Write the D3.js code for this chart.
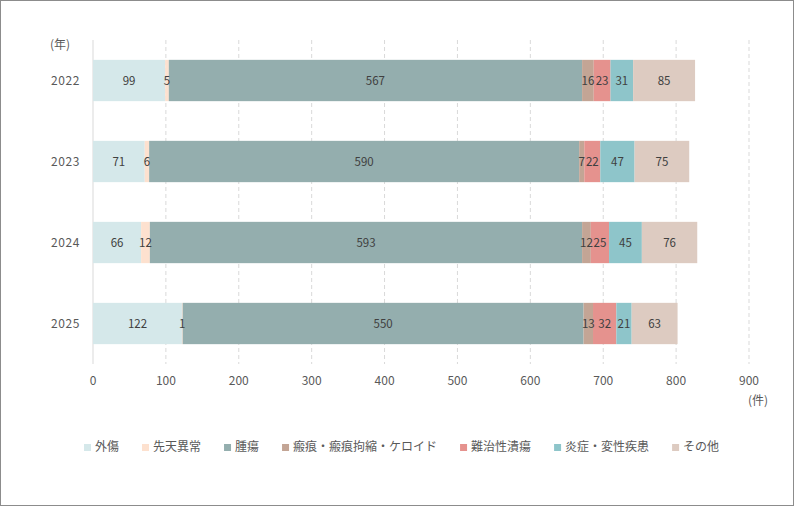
<!DOCTYPE html>
<html>
<head>
<meta charset="utf-8">
<script src="https://cdn.jsdelivr.net/npm/d3@7"></script>
<style>
  body { margin: 0; background: #fff; }
  svg { display: block; font-family: "Noto Sans CJK JP", "Noto Sans", sans-serif; }
</style>
</head>
<body>
<div id="container"><svg></svg></div>
<script>
let width = 794;
let height = 506;

// data
let years = ["2022", "2023", "2024", "2025"];
let categories = ["外傷", "先天異常", "腫瘍", "瘢痕・瘢痕拘縮・ケロイド", "難治性潰瘍", "炎症・変性疾患", "その他"];
let colors = ["#d5e8ea", "#fde1cf", "#94aeae", "#c3a595", "#e5928e", "#8ec5ca", "#ddcbc1"];
let trauma = [99, 71, 66, 122];
let congenital = [5, 6, 12, 1];
let tumor = [567, 590, 593, 550];
let scar = [16, 7, 12, 13];
let ulcer = [23, 22, 25, 32];
let inflammation = [31, 47, 45, 21];
let other = [85, 75, 76, 63];
let xTicks = [0, 100, 200, 300, 400, 500, 600, 700, 800, 900];

let series = [trauma, congenital, tumor, scar, ulcer, inflammation, other];

let rows = years.map((y, i) => {
    let r = {year: y};
    categories.forEach((c, j) => { r[c] = series[j][i]; });
    return r;
});

let stacked = d3.stack().keys(categories)(rows);

let margin = {left: 93, right: 45, top: 40, bottom: 142};

let svg = d3.select('#container').select('svg')
    .attr('width', width)
    .attr('height', height);

// outer frame
svg.append("rect")
    .attr("x", 0.5).attr("y", 0.5)
    .attr("width", width - 1).attr("height", height - 1)
    .attr("fill", "#fff")
    .attr("stroke", "#8c8c8c");

let x = d3.scaleLinear().domain([0, 900]).range([margin.left, 749]);
let y = d3.scaleBand().domain(years).range([margin.top, 364]).paddingInner(0.49).paddingOuter(0.245);

// gridlines
svg.append("g")
    .selectAll("line")
    .data(xTicks.slice(1))
    .join("line")
    .attr("x1", d => x(d)).attr("x2", d => x(d))
    .attr("y1", margin.top).attr("y2", 364)
    .attr("stroke", "#d9d9d9")
    .attr("stroke-dasharray", "4,3");

// category axis line
svg.append("line")
    .attr("x1", x(0)).attr("x2", x(0))
    .attr("y1", margin.top).attr("y2", 364)
    .attr("stroke", "#d9d9d9");

// bars
svg.append("g")
    .selectAll("g")
    .data(stacked)
    .join("g")
    .attr("fill", (d, i) => colors[i])
    .selectAll("rect")
    .data(d => d)
    .join("rect")
    .attr("x", d => x(d[0]))
    .attr("width", d => x(d[1]) - x(d[0]))
    .attr("y", d => y(d.data.year))
    .attr("height", y.bandwidth());

// data labels (own layer so they sit over every segment)
svg.append("g")
    .selectAll("g")
    .data(stacked)
    .join("g")
    .selectAll("text")
    .data(d => d)
    .join("text")
    .attr("x", d => (x(d[0]) + x(d[1])) / 2)
    .attr("y", d => y(d.data.year) + y.bandwidth() / 2)
    .attr("dy", "0.35em")
    .attr("text-anchor", "middle")
    .attr("fill", "#404040")
    .attr("font-size", 11.5)
    .text(d => d[1] - d[0]);

// x tick labels
svg.append("g")
    .selectAll("text")
    .data(xTicks)
    .join("text")
    .attr("x", d => x(d))
    .attr("y", 381)
    .attr("dy", "0.35em")
    .attr("text-anchor", "middle")
    .attr("fill", "#595959")
    .attr("font-size", 12)
    .text(d => d);

// year labels
svg.append("g")
    .selectAll("text")
    .data(years)
    .join("text")
    .attr("x", 80)
    .attr("y", d => y(d) + y.bandwidth() / 2)
    .attr("dy", "0.35em")
    .attr("text-anchor", "end")
    .attr("fill", "#595959")
    .attr("font-size", 12)
    .attr("letter-spacing", 0.6)
    .text(d => d);

// unit labels
svg.append("text")
    .attr("x", 60).attr("y", 45).attr("dy", "0.35em")
    .attr("text-anchor", "middle")
    .attr("fill", "#595959").attr("font-size", 12)
    .text("(年)");

svg.append("text")
    .attr("x", 758).attr("y", 401).attr("dy", "0.35em")
    .attr("text-anchor", "middle")
    .attr("fill", "#595959").attr("font-size", 12)
    .text("(件)");

// legend
let legend = svg.append("g");
let lx = 84;
categories.forEach((c, i) => {
    let item = legend.append("g").attr("transform", `translate(${lx},447)`);
    item.append("rect")
        .attr("x", 0).attr("y", -3)
        .attr("width", 7).attr("height", 7)
        .attr("fill", colors[i]);
    let t = item.append("text")
        .attr("x", 11).attr("y", 0).attr("dy", "0.35em")
        .attr("fill", "#595959").attr("font-size", 12)
        .text(c);
    lx += 11 + t.node().getComputedTextLength() + 23;
});
</script>
</body>
</html>
